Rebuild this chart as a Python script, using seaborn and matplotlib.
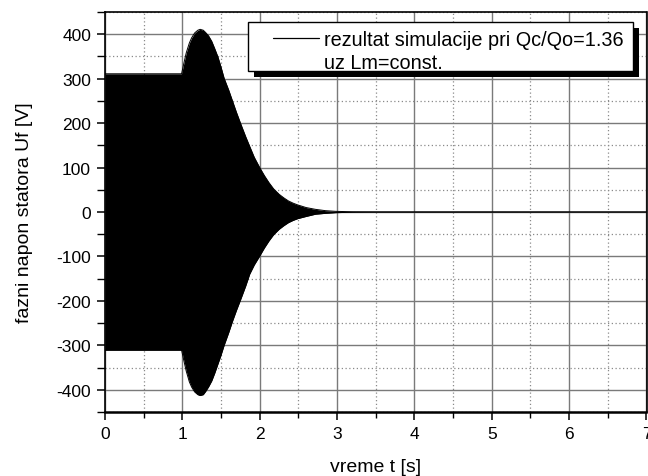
import numpy as np
import pandas as pd
import seaborn as sns
import matplotlib
matplotlib.use("Agg")
import matplotlib.pyplot as plt
from matplotlib.lines import Line2D
from matplotlib.patches import Rectangle
from matplotlib.transforms import IdentityTransform
from matplotlib.ticker import MultipleLocator

# Envelope of the simulated phase voltage
time_s = [0.0, 0.99, 1.02, 1.05, 1.09, 1.12, 1.16, 1.20, 1.23, 1.27, 1.30, 1.34,
          1.38, 1.42, 1.46, 1.50, 1.54, 1.60, 1.65, 1.70, 1.76, 1.82, 1.87, 1.93,
          2.00, 2.06, 2.12, 2.18, 2.25, 2.31, 2.37, 2.43, 2.49, 2.60, 2.72, 2.85,
          2.98, 3.20, 3.50, 7.0]
upper_v = [311, 311, 335, 358, 380, 392, 403, 409, 411, 409, 404, 396,
           384, 367, 349, 326, 301, 274, 249, 224, 196, 169, 148, 123,
           100, 82, 66, 52, 40, 32, 25, 20, 16, 10, 6, 3,
           1.5, 0.5, 0.2, 0.0]
lower_v = [-311, -311, -335, -358, -382, -394, -405, -411, -413, -411, -404, -393,
           -380, -362, -342, -322, -300, -271, -245, -221, -194, -166, -140, -119,
           -99, -81, -65, -51, -39, -31, -24, -19, -15, -10, -5, -3,
           -1.5, -0.5, -0.2, 0.0]

x_ticks = [0, 1, 2, 3, 4, 5, 6, 7]
y_ticks = [-400, -300, -200, -100, 0, 100, 200, 300, 400]

legend_line1 = "rezultat simulacije pri Qc/Qo=1.36"
legend_line2 = "uz Lm=const."
x_label = "vreme t [s]"
y_label = "fazni napon statora Uf [V]"

df = pd.DataFrame({"t": time_s, "upper": upper_v, "lower": lower_v})

sns.set_theme(style="white")
plt.rcParams["font.family"] = ["Liberation Sans", "DejaVu Sans"]

W, H = 648, 477
fig = plt.figure(figsize=(W / 100, H / 100), dpi=100)
ax = fig.add_axes([105 / W, 1 - 413 / H, 541.5 / W, 400 / H])

ax.fill_between(df["t"], df["lower"], df["upper"], color="black", linewidth=0, zorder=2)
sns.lineplot(data=df, x="t", y="upper", ax=ax, color="black", linewidth=0.7, zorder=3)
sns.lineplot(data=df, x="t", y="lower", ax=ax, color="black", linewidth=0.7, zorder=3)

ax.set_xlim(0, 7)
ax.set_ylim(-450, 450)
ax.set_xticks(x_ticks)
ax.set_yticks(y_ticks)
ax.set_xticklabels([str(v) for v in x_ticks])
ax.set_yticklabels([str(v) for v in y_ticks])
ax.xaxis.set_minor_locator(MultipleLocator(0.5))
ax.yaxis.set_minor_locator(MultipleLocator(50))

ax.set_axisbelow(True)
ax.grid(which="major", color="#7a7a7a", linewidth=1.0, linestyle="-")
ax.grid(which="minor", color="#8a8a8a", linewidth=0.9, linestyle=(0, (1, 2)))

ax.tick_params(axis="both", which="major", direction="out", length=6, width=1.1,
               color="black", labelsize=12.5, pad=4, bottom=True, left=True,
               labelcolor="black")
ax.tick_params(axis="x", which="minor", direction="out", length=4, width=1.0,
               color="black", bottom=True)
ax.tick_params(axis="y", which="minor", direction="out", length=5.5, width=1.0,
               color="black", left=True)

for side in ["left", "right", "top", "bottom"]:
    ax.spines[side].set_visible(True)
    ax.spines[side].set_color("black")
    ax.spines[side].set_linewidth(1.2)
ax.spines["bottom"].set_linewidth(1.8)

ax.set_xlabel(x_label, fontsize=14, labelpad=12, color="black")
ax.set_ylabel(y_label, fontsize=14, labelpad=17, color="black")

# Legend: frame + shadow drawn as rectangles in pixel space
handles = [Line2D([], [], color="black", linewidth=0.9),
           Line2D([], [], color="none", linewidth=0)]
leg = fig.legend(handles, [legend_line1, legend_line2], loc="upper left",
                 bbox_to_anchor=(273 / W, 1 - 31 / H), bbox_transform=fig.transFigure,
                 frameon=False, fontsize=14.3, handlelength=2.3, handletextpad=0.26,
                 borderpad=0, borderaxespad=0, labelspacing=0.22)
leg.set_zorder(10)
for txt in leg.get_texts():
    txt.set_color("black")

bx0, by_top, bw, bh = 248, 23, 385, 49
shadow = Rectangle((bx0 + 6, H - (by_top + bh) - 6), bw, bh, transform=IdentityTransform(),
                   facecolor="black", edgecolor="black", linewidth=0, zorder=8)
frame = Rectangle((bx0, H - (by_top + bh)), bw, bh, transform=IdentityTransform(),
                  facecolor="white", edgecolor="black", linewidth=1.0, zorder=9)
fig.add_artist(shadow)
fig.add_artist(frame)

fig.savefig("out.png", dpi=100)
